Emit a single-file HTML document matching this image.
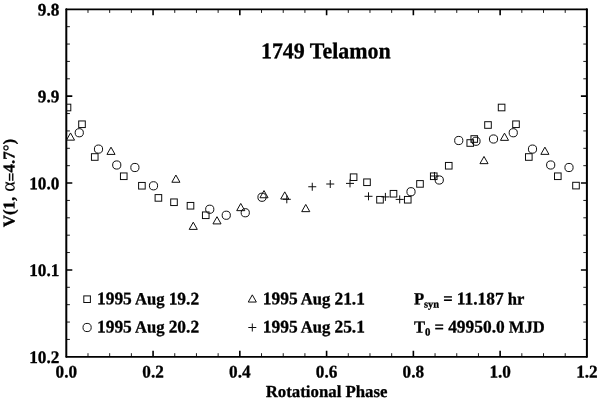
<!DOCTYPE html>
<html lang="en"><head><meta charset="utf-8"><title>1749 Telamon</title>
<style>
html,body{margin:0;padding:0;background:#fff;}
body{width:600px;height:402px;overflow:hidden;}
svg{display:block;}
text{font-family:"Liberation Serif","Times New Roman",serif;font-weight:bold;text-rendering:geometricPrecision;fill:#000;stroke:#000;stroke-width:0.3px;stroke-linejoin:round;}
.mk{fill:none;stroke:#0d0d0d;stroke-width:1.0;}
.tk{stroke:#000;stroke-width:1;fill:none;}
</style></head><body>
<svg width="600" height="402" viewBox="0 0 600 402">
<rect x="0" y="0" width="600" height="402" fill="#fff"/>
<path d="M153.07 356.80v-6.0M153.07 9.30v6.0M239.83 356.80v-6.0M239.83 9.30v6.0M326.60 356.80v-6.0M326.60 9.30v6.0M413.37 356.80v-6.0M413.37 9.30v6.0M500.13 356.80v-6.0M500.13 9.30v6.0M66.30 96.17h6.0M586.90 96.17h-6.0M66.30 183.05h6.0M586.90 183.05h-6.0M66.30 269.93h6.0M586.90 269.93h-6.0" stroke="#000" stroke-width="1.6" fill="none"/>
<path d="M87.99 356.80v-3.6M87.99 9.30v3.6M109.68 356.80v-3.6M109.68 9.30v3.6M131.38 356.80v-3.6M131.38 9.30v3.6M174.76 356.80v-3.6M174.76 9.30v3.6M196.45 356.80v-3.6M196.45 9.30v3.6M218.14 356.80v-3.6M218.14 9.30v3.6M261.53 356.80v-3.6M261.53 9.30v3.6M283.22 356.80v-3.6M283.22 9.30v3.6M304.91 356.80v-3.6M304.91 9.30v3.6M348.29 356.80v-3.6M348.29 9.30v3.6M369.98 356.80v-3.6M369.98 9.30v3.6M391.68 356.80v-3.6M391.68 9.30v3.6M435.06 356.80v-3.6M435.06 9.30v3.6M456.75 356.80v-3.6M456.75 9.30v3.6M478.44 356.80v-3.6M478.44 9.30v3.6M521.83 356.80v-3.6M521.83 9.30v3.6M543.52 356.80v-3.6M543.52 9.30v3.6M565.21 356.80v-3.6M565.21 9.30v3.6M66.30 26.68h3.6M586.90 26.68h-3.6M66.30 44.05h3.6M586.90 44.05h-3.6M66.30 61.42h3.6M586.90 61.42h-3.6M66.30 78.80h3.6M586.90 78.80h-3.6M66.30 113.55h3.6M586.90 113.55h-3.6M66.30 130.93h3.6M586.90 130.93h-3.6M66.30 148.30h3.6M586.90 148.30h-3.6M66.30 165.68h3.6M586.90 165.68h-3.6M66.30 200.43h3.6M586.90 200.43h-3.6M66.30 217.80h3.6M586.90 217.80h-3.6M66.30 235.18h3.6M586.90 235.18h-3.6M66.30 252.55h3.6M586.90 252.55h-3.6M66.30 287.30h3.6M586.90 287.30h-3.6M66.30 304.68h3.6M586.90 304.68h-3.6M66.30 322.05h3.6M586.90 322.05h-3.6M66.30 339.43h3.6M586.90 339.43h-3.6" stroke="#000" stroke-width="0.9" fill="none"/>
<path d="M66.30 9.30H586.90M66.30 356.80H586.90" stroke="#000" stroke-width="1.7" stroke-linecap="round" fill="none"/>
<path d="M66.30 9.30V356.80M586.90 9.30V356.80" stroke="#000" stroke-width="2" stroke-linecap="round" fill="none"/>
<text transform="translate(66.30 377.60) rotate(0.03) scale(1.033 1.07)" font-size="16.67" text-anchor="middle">0.0</text>
<text transform="translate(153.07 377.60) rotate(0.03) scale(1.033 1.07)" font-size="16.67" text-anchor="middle">0.2</text>
<text transform="translate(239.83 377.60) rotate(0.03) scale(1.033 1.07)" font-size="16.67" text-anchor="middle">0.4</text>
<text transform="translate(326.60 377.60) rotate(0.03) scale(1.033 1.07)" font-size="16.67" text-anchor="middle">0.6</text>
<text transform="translate(413.37 377.60) rotate(0.03) scale(1.033 1.07)" font-size="16.67" text-anchor="middle">0.8</text>
<text transform="translate(500.13 377.60) rotate(0.03) scale(1.033 1.07)" font-size="16.67" text-anchor="middle">1.0</text>
<text transform="translate(586.90 377.60) rotate(0.03) scale(1.033 1.07)" font-size="16.67" text-anchor="middle">1.2</text>
<text transform="translate(59.30 15.40) rotate(0.03) scale(1.033 1.06)" font-size="16.67" text-anchor="end">9.8</text>
<text transform="translate(59.30 102.27) rotate(0.03) scale(1.033 1.06)" font-size="16.67" text-anchor="end">9.9</text>
<text transform="translate(59.30 189.15) rotate(0.03) scale(1.033 1.06)" font-size="16.67" text-anchor="end">10.0</text>
<text transform="translate(59.30 276.03) rotate(0.03) scale(1.033 1.06)" font-size="16.67" text-anchor="end">10.1</text>
<text transform="translate(59.30 362.90) rotate(0.03) scale(1.033 1.06)" font-size="16.67" text-anchor="end">10.2</text>
<text transform="translate(326.60 397.00) rotate(0.03) scale(1.008 1.01)" font-size="16.67" text-anchor="middle">Rotational Phase</text>
<text transform="translate(14.40 183.10) rotate(-89.97) scale(1.017 1.0)" font-size="16.67" text-anchor="middle">V(1, <tspan dx="0.6" font-weight="normal" font-size="19.5" stroke-width="0.15">α</tspan><tspan dy="1.8" font-size="15.5">=</tspan><tspan dy="-1.8">4.7°)</tspan></text>
<text transform="translate(325.80 58.20) rotate(0.03) scale(1.025 1.045)" font-size="21.4" text-anchor="middle">1749 Telamon</text>
<clipPath id="pc"><rect x="66.00" y="9.30" width="521.20" height="347.50"/></clipPath>
<g class="mk" clip-path="url(#pc)">
<rect x="64.20" y="104.20" width="6.6" height="6.6"/>
<rect x="78.70" y="120.95" width="6.6" height="6.6"/>
<rect x="91.45" y="153.70" width="6.6" height="6.6"/>
<rect x="120.45" y="172.95" width="6.6" height="6.6"/>
<rect x="138.60" y="182.45" width="6.6" height="6.6"/>
<rect x="155.10" y="194.60" width="6.6" height="6.6"/>
<rect x="170.70" y="198.95" width="6.6" height="6.6"/>
<rect x="187.20" y="202.45" width="6.6" height="6.6"/>
<rect x="202.45" y="211.95" width="6.6" height="6.6"/>
<rect x="350.30" y="173.90" width="6.6" height="6.6"/>
<rect x="363.70" y="178.95" width="6.6" height="6.6"/>
<rect x="376.70" y="196.45" width="6.6" height="6.6"/>
<rect x="390.20" y="190.45" width="6.6" height="6.6"/>
<rect x="404.45" y="196.45" width="6.6" height="6.6"/>
<rect x="416.70" y="180.60" width="6.6" height="6.6"/>
<rect x="430.45" y="172.95" width="6.6" height="6.6"/>
<rect x="445.45" y="162.45" width="6.6" height="6.6"/>
<rect x="466.95" y="139.70" width="6.6" height="6.6"/>
<rect x="470.95" y="135.70" width="6.6" height="6.6"/>
<rect x="484.70" y="121.70" width="6.6" height="6.6"/>
<rect x="498.30" y="104.20" width="6.6" height="6.6"/>
<rect x="512.70" y="120.95" width="6.6" height="6.6"/>
<rect x="525.50" y="153.70" width="6.6" height="6.6"/>
<rect x="554.50" y="172.95" width="6.6" height="6.6"/>
<rect x="572.70" y="182.30" width="6.6" height="6.6"/>
<circle cx="79.25" cy="132.75" r="4.1"/>
<circle cx="98.50" cy="149.10" r="4.1"/>
<circle cx="116.75" cy="165.00" r="4.1"/>
<circle cx="134.90" cy="167.50" r="4.1"/>
<circle cx="153.50" cy="185.80" r="4.1"/>
<circle cx="209.75" cy="209.25" r="4.1"/>
<circle cx="226.25" cy="215.25" r="4.1"/>
<circle cx="245.25" cy="212.75" r="4.1"/>
<circle cx="262.00" cy="197.25" r="4.1"/>
<circle cx="411.00" cy="191.75" r="4.1"/>
<circle cx="439.25" cy="180.00" r="4.1"/>
<circle cx="458.75" cy="140.50" r="4.1"/>
<circle cx="476.00" cy="141.25" r="4.1"/>
<circle cx="493.50" cy="139.00" r="4.1"/>
<circle cx="513.25" cy="132.75" r="4.1"/>
<circle cx="532.50" cy="149.10" r="4.1"/>
<circle cx="550.70" cy="165.00" r="4.1"/>
<circle cx="569.00" cy="167.50" r="4.1"/>
<path d="M66.45 140.15L70.50 132.95L74.55 140.15Z"/>
<path d="M106.95 154.40L111.00 147.20L115.05 154.40Z"/>
<path d="M171.85 182.25L175.90 175.05L179.95 182.25Z"/>
<path d="M189.20 229.40L193.25 222.20L197.30 229.40Z"/>
<path d="M212.95 223.90L217.00 216.70L221.05 223.90Z"/>
<path d="M236.70 210.65L240.75 203.45L244.80 210.65Z"/>
<path d="M259.95 197.75L264.00 190.55L268.05 197.75Z"/>
<path d="M280.70 199.05L284.75 191.85L288.80 199.05Z"/>
<path d="M301.70 211.65L305.75 204.45L309.80 211.65Z"/>
<path d="M479.95 163.65L484.00 156.45L488.05 163.65Z"/>
<path d="M500.45 140.35L504.50 133.15L508.55 140.35Z"/>
<path d="M540.85 154.35L544.90 147.15L548.95 154.35Z"/>
<path d="M282.80 199.30H290.80M286.80 195.30V203.30"/>
<path d="M308.25 186.75H316.25M312.25 182.75V190.75"/>
<path d="M326.25 184.00H334.25M330.25 180.00V188.00"/>
<path d="M346.00 183.40H354.00M350.00 179.40V187.40"/>
<path d="M364.50 196.30H372.50M368.50 192.30V200.30"/>
<path d="M381.40 196.90H389.40M385.40 192.90V200.90"/>
<path d="M395.70 199.40H403.70M399.70 195.40V203.40"/>
<path d="M430.50 176.00H438.50M434.50 172.00V180.00"/>
<rect x="83.80" y="295.90" width="6.6" height="6.6"/>
<circle cx="87.10" cy="327.50" r="4.1"/>
<path d="M248.25 302.05L252.30 294.85L256.35 302.05Z"/>
<path d="M248.30 327.50H256.30M252.30 323.50V331.50"/>
</g>
<text transform="translate(97.00 304.35) rotate(0.03) scale(1.0 1.02)" font-size="16.6" text-anchor="start"><tspan font-size="17.4">1995</tspan> Aug <tspan font-size="17.4">19.2</tspan></text>
<text transform="translate(97.00 332.40) rotate(0.03) scale(1.0 1.02)" font-size="16.6" text-anchor="start"><tspan font-size="17.4">1995</tspan> Aug <tspan font-size="17.4">20.2</tspan></text>
<text transform="translate(262.80 304.35) rotate(0.03) scale(1.0 1.02)" font-size="16.6" text-anchor="start"><tspan font-size="17.4">1995</tspan> Aug <tspan font-size="17.4">21.1</tspan></text>
<text transform="translate(262.80 332.40) rotate(0.03) scale(1.0 1.02)" font-size="16.6" text-anchor="start"><tspan font-size="17.4">1995</tspan> Aug <tspan font-size="17.4">25.1</tspan></text>
<text transform="translate(413.90 304.35) rotate(0.03) scale(1.0 1.02)" font-size="16.6" text-anchor="start">P<tspan font-size="10.4" dy="3">syn</tspan><tspan dy="-3"> = <tspan font-size="17.4">11.187</tspan> hr</tspan></text>
<text transform="translate(413.90 332.40) rotate(0.03) scale(1.0 1.02)" font-size="16.6" text-anchor="start">T<tspan font-size="10.8" dy="3">0</tspan><tspan dy="-3"> = <tspan font-size="17.4">49950.0</tspan> MJD</tspan></text>
</svg></body></html>
